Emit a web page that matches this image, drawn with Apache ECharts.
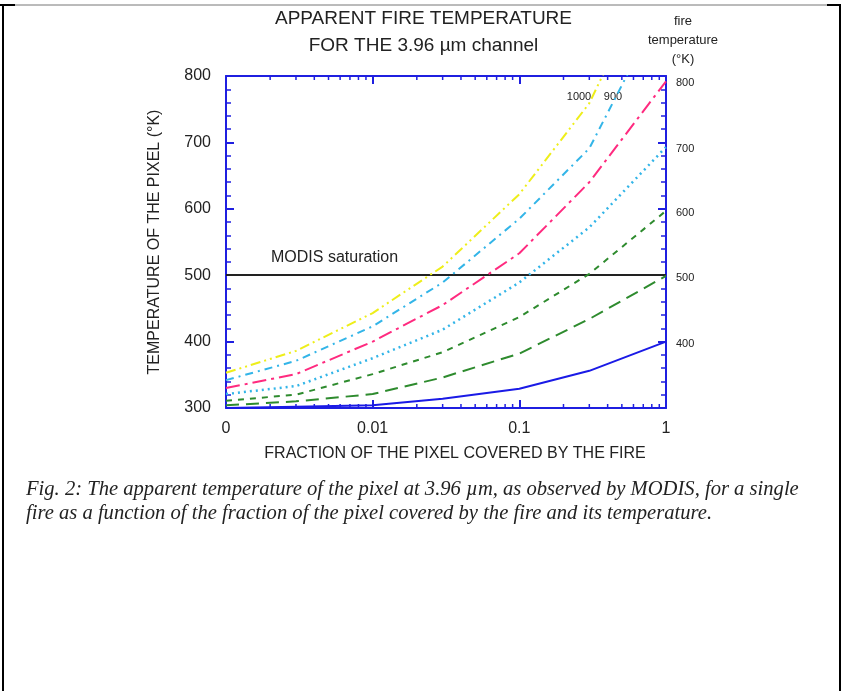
<!DOCTYPE html>
<html>
<head>
<meta charset="utf-8">
<script src="https://cdn.jsdelivr.net/npm/echarts@6/dist/echarts.min.js"></script>
<style>
  html, body { margin: 0; padding: 0; background: #fff; }
  #chart { width: 847px; height: 691px; }
</style>
</head>
<body>
<div id="chart"></div>
<script>
// fraction of the pixel covered by the fire (log axis)
const fraction = [0.001, 0.003, 0.01, 0.03, 0.1, 0.3, 1];
// apparent pixel temperature (K) for each fire temperature
const t400 = [300, 302, 304, 314, 329, 356, 400];
const t500 = [304, 310, 321, 346, 382, 434, 499];
const t600 = [311, 320, 351, 384, 437, 502, 597];
const t700 = [321, 333, 375, 418, 489, 572, 693];
const t800 = [330, 351, 400, 455, 533, 640, 792];
const t900 = [342, 371, 423, 489, 585, 691, 915];
const t1000 = [353, 386, 443, 513, 622, 759, 1000];
const fireTemps = ['400', '500', '600', '700', '800', '900', '1000'];
const minorTicks = [0.002, 0.003, 0.004, 0.005, 0.006, 0.007, 0.008, 0.009,
                    0.02, 0.03, 0.04, 0.05, 0.06, 0.07, 0.08, 0.09,
                    0.2, 0.3, 0.4, 0.5, 0.6, 0.7, 0.8, 0.9];
const saturation = 500;

const axisBlue = '#1f1fe0';
const textColor = '#222';
const sans = 'Liberation Sans';

// line look of each curve
const styles = [
  { color: '#1a1ae6', type: 'solid', width: 2 },
  { color: '#2e8b2e', type: [13, 7], width: 2 },
  { color: '#2e8b2e', type: [6, 6], width: 2 },
  { color: '#33b5e8', type: [2, 4], width: 2.5 },
  { color: '#ff2a7f', type: [14, 5, 3, 5], width: 2 },
  { color: '#33b5e8', type: [8, 5, 2, 5], width: 2 },
  { color: '#eeee1a', type: [10, 4, 2, 4, 2, 4], width: 2 }
];

const curves = [t400, t500, t600, t700, t800, t900, t1000];

const chart = echarts.init(document.getElementById('chart'));

function renderTick(params, api) {
  const x = api.coord([api.value(0), 300])[0];
  const cs = params.coordSys;
  const bottom = cs.y + cs.height;
  const st = { stroke: axisBlue, lineWidth: 1.5 };
  return {
    type: 'group',
    children: [
      { type: 'line', shape: { x1: x, y1: bottom, x2: x, y2: bottom - 4 }, style: st },
      { type: 'line', shape: { x1: x, y1: cs.y, x2: x, y2: cs.y + 4 }, style: st }
    ]
  };
}

const lineSeries = curves.map((vals, i) => ({
  name: fireTemps[i],
  type: 'line',
  data: fraction.map((f, k) => [f, vals[k]]),
  symbol: 'none',
  clip: true,
  z: 3,
  lineStyle: { color: styles[i].color, type: styles[i].type, width: styles[i].width },
  endLabel: {
    show: i < 5,
    formatter: '{a}',
    distance: 10,
    offset: [0, 2],
    fontFamily: sans,
    fontSize: 11,
    color: textColor
  }
}));

lineSeries[0].markLine = {
  silent: true,
  symbol: ['none', 'none'],
  label: { show: false },
  lineStyle: { color: '#222', type: 'solid', width: 2 },
  data: [{ yAxis: saturation }],
  z: 2
};

const option = {
  animation: false,
  backgroundColor: '#fff',
  title: {
    text: 'APPARENT FIRE TEMPERATURE\nFOR THE 3.96 µm channel',
    left: 'center',
    top: 5,
    padding: 0,
    textStyle: { fontFamily: sans, fontSize: 19, fontWeight: 'normal', color: textColor, lineHeight: 27 }
  },
  grid: { left: 226, top: 76, right: 181, bottom: 283, containLabel: false, outerBoundsMode: 'none' },
  xAxis: [
    {
      type: 'log', logBase: 10, min: 0.001, max: 1, position: 'bottom',
      name: 'FRACTION OF THE PIXEL COVERED BY THE FIRE',
      nameLocation: 'middle', nameGap: 38,
      nameTextStyle: { fontFamily: sans, fontSize: 16, color: textColor, padding: [0, 0, 0, 18] },
      axisLine: { show: true, lineStyle: { color: axisBlue, width: 2 } },
      axisTick: { show: true, inside: true, length: 8, lineStyle: { color: axisBlue, width: 2 } },
      splitLine: { show: false },
      minorTick: { show: false },
      axisLabel: {
        fontFamily: sans, fontSize: 16, color: textColor, margin: 13,
        showMinLabel: true, showMaxLabel: true,
        formatter: v => (v < 0.002 ? '0' : String(+v.toPrecision(3)))
      }
    },
    {
      type: 'log', logBase: 10, min: 0.001, max: 1, position: 'top',
      axisLine: { show: true, lineStyle: { color: axisBlue, width: 2 } },
      axisTick: { show: true, inside: true, length: 8, lineStyle: { color: axisBlue, width: 2 } },
      axisLabel: { show: false },
      splitLine: { show: false }
    }
  ],
  yAxis: [
    {
      type: 'value', min: 300, max: 800, interval: 100, position: 'left',
      name: 'TEMPERATURE OF THE PIXEL (°K)',
      nameLocation: 'middle', nameRotate: 90, nameGap: 63,
      nameTextStyle: { fontFamily: sans, fontSize: 16, color: textColor },
      axisLine: { show: true, lineStyle: { color: axisBlue, width: 2 } },
      axisTick: { show: true, inside: true, length: 8, lineStyle: { color: axisBlue, width: 2 } },
      minorTick: { show: true, splitNumber: 5, length: 5, lineStyle: { color: axisBlue, width: 1.5 } },
      splitLine: { show: false },
      axisLabel: { fontFamily: sans, fontSize: 16, color: textColor, margin: 15 }
    },
    {
      type: 'value', min: 300, max: 800, interval: 100, position: 'right',
      axisLine: { show: true, lineStyle: { color: axisBlue, width: 2 } },
      axisTick: { show: true, inside: true, length: 8, lineStyle: { color: axisBlue, width: 2 } },
      minorTick: { show: true, splitNumber: 5, length: 5, lineStyle: { color: axisBlue, width: 1.5 } },
      splitLine: { show: false },
      axisLabel: { show: false }
    }
  ],
  series: [
    {
      type: 'custom',
      renderItem: renderTick,
      data: minorTicks.map(v => [v, 300]),
      encode: { x: 0, y: 1 },
      silent: true,
      clip: false,
      z: 4
    }
  ].concat(lineSeries),
  graphic: [
    // page frame
    { type: 'line', shape: { x1: 3, y1: 5, x2: 827, y2: 5 }, style: { stroke: '#777', lineWidth: 1 } },
    { type: 'line', shape: { x1: 0, y1: 5, x2: 15, y2: 5 }, style: { stroke: '#000', lineWidth: 2 } },
    { type: 'line', shape: { x1: 827, y1: 5, x2: 841, y2: 5 }, style: { stroke: '#000', lineWidth: 2 } },
    { type: 'line', shape: { x1: 3, y1: 5, x2: 3, y2: 691 }, style: { stroke: '#000', lineWidth: 2 } },
    { type: 'line', shape: { x1: 840, y1: 5, x2: 840, y2: 691 }, style: { stroke: '#000', lineWidth: 2 } },
    {
      type: 'text', x: 683, y: 12,
      style: {
        text: 'fire\ntemperature\n(°K)', textAlign: 'center', textVerticalAlign: 'top',
        fontFamily: sans, fontSize: 13, lineHeight: 19, fill: textColor
      }
    },
    {
      type: 'text', x: 579, y: 97,
      style: { text: '1000', textAlign: 'center', textVerticalAlign: 'middle', fontFamily: sans, fontSize: 11, fill: textColor }
    },
    {
      type: 'text', x: 613, y: 97,
      style: { text: '900', textAlign: 'center', textVerticalAlign: 'middle', fontFamily: sans, fontSize: 11, fill: textColor }
    },
    {
      type: 'text', x: 271, y: 258,
      style: { text: 'MODIS saturation', textAlign: 'left', textVerticalAlign: 'middle', fontFamily: sans, fontSize: 16, fill: textColor }
    },
    {
      type: 'text', x: 26, y: 490,
      style: {
        text: 'Fig. 2: The apparent temperature of the pixel at 3.96 µm, as observed by MODIS, for a single',
        textAlign: 'left', textVerticalAlign: 'middle',
        fontFamily: 'Liberation Serif', fontStyle: 'italic', fontSize: 20.6, fill: textColor
      }
    },
    {
      type: 'text', x: 26, y: 514,
      style: {
        text: 'fire as a function of the fraction of the pixel covered by the fire and its temperature.',
        textAlign: 'left', textVerticalAlign: 'middle',
        fontFamily: 'Liberation Serif', fontStyle: 'italic', fontSize: 20.6, fill: textColor
      }
    }
  ]
};

chart.setOption(option);
</script>
</body>
</html>
